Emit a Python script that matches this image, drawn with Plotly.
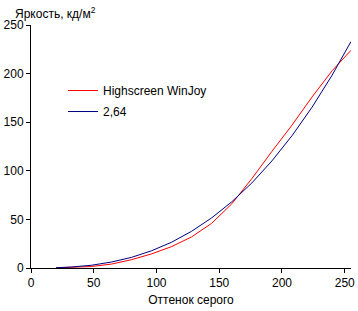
import plotly.graph_objects as go

grey = [20, 32, 48, 64, 80, 96, 112, 128, 144, 160, 176, 192, 208, 224, 240, 255]
winjoy = [0.2, 0.5, 1.5, 4, 8.5, 14.5, 22, 32, 46, 66, 92, 120, 147, 176, 203, 224]
gamma264 = [0.3, 1.0, 2.8, 6.1, 10.9, 17.7, 26.5, 37.8, 51.6, 68.1, 87.5, 110.2, 136.1, 165.5, 198.5, 233]
ticks = [0, 50, 100, 150, 200, 250]

FONT = "Arial, Liberation Sans, sans-serif"

fig = go.Figure()
fig.add_trace(go.Scatter(x=grey, y=winjoy, mode="lines", name="Highscreen WinJoy",
                         line=dict(color="#FF0000", width=1), legendgroup="a"))
fig.add_trace(go.Scatter(x=grey, y=gamma264, mode="lines", name="2,64",
                         line=dict(color="#000080", width=1), legendgroup="b"))

axis_common = dict(showgrid=False, zeroline=False, showline=True, linecolor="black", linewidth=1,
                   ticks="outside", ticklen=4, tickcolor="black", tickwidth=1,
                   ticklabeloverflow="allow",
                   tickfont=dict(family=FONT, size=12, color="black"))

fig.update_layout(
    width=358, height=311,
    margin=dict(l=31, r=3, t=25, b=43),
    paper_bgcolor="white", plot_bgcolor="white",
    font=dict(family=FONT, size=12, color="black"),
    xaxis=dict(range=[0, 255], tickvals=ticks, ticktext=[str(t) for t in ticks],
               title=dict(text="Оттенок серого", font=dict(family=FONT, size=12), standoff=6),
               **axis_common),
    yaxis=dict(range=[0, 250], tickvals=ticks, ticktext=[str(t) for t in ticks], **axis_common),
    showlegend=True,
    legend=dict(x=0.10, y=0.79, xanchor="left", yanchor="top", bgcolor="rgba(0,0,0,0)",
                font=dict(family=FONT, size=12, color="black"), tracegroupgap=2,
                traceorder="grouped"),
    annotations=[dict(text="Яркость, кд/м<sup>2</sup>", xref="paper", yref="paper",
                      x=-0.056, y=1.0, xanchor="left", yanchor="bottom", yshift=2, showarrow=False,
                      font=dict(family=FONT, size=12, color="black"))],
)

fig.write_html("out.html")
